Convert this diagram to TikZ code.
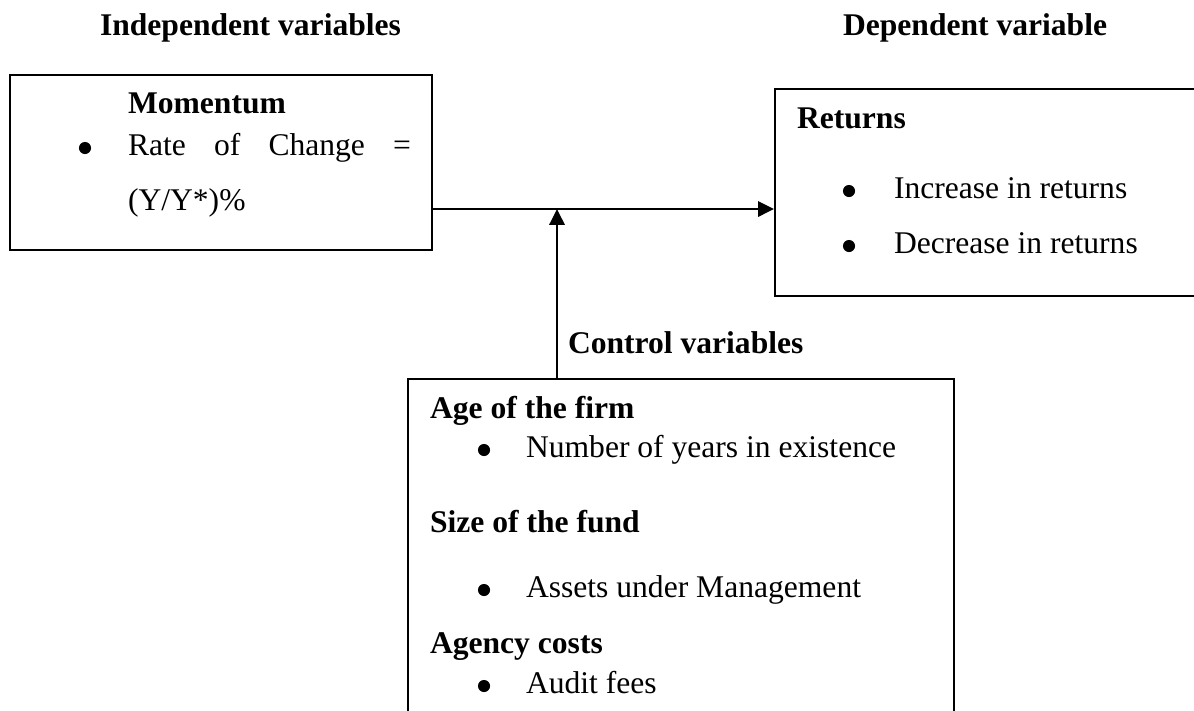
\documentclass[tikz,border=0pt]{standalone}
\usepackage{fontspec}
\setmainfont{Liberation Serif}
\usetikzlibrary{arrows.meta, fit}

\begin{document}
\begin{tikzpicture}[x=0.38pt, y=-0.38pt, line width=0.8pt,
    font=\fontsize{12pt}{14pt}\selectfont,
    box/.style={draw, inner sep=0pt},
    txt/.style={anchor=base west, inner sep=0pt},
    hd/.style={txt, font=\fontsize{12pt}{14pt}\selectfont\bfseries},
    flow/.style={-{Triangle[length=6pt, width=5.8pt]}}]
    \useasboundingbox (0,0) rectangle (1194,710);
    \clip (0,0) rectangle (1194,710);

    % headings
    \node[hd] (indep) at (99,35) {Independent variables};
    \node[hd] (dep) at (842,35) {Dependent variable};

    % independent variable
    \node[box, fit={(10,75) (432,250)}] (mom) {};
    \node[hd] (momt) at (127,113) {Momentum};
    \node[txt] (roc) at (127,155) {\makebox[107.5pt][s]{Rate of Change =}};
    \node[txt] (ratio) at (127,210) {(Y/Y*)\%};

    % dependent variable
    \node[box, fit={(775,89) (1215,296)}] (ret) {};
    \node[hd] (rett) at (796,128) {Returns};
    \node[txt] (inc) at (893,198) {Increase in returns};
    \node[txt] (dec) at (893,253) {Decrease in returns};

    % control variables
    \node[box, fit={(408,379) (954,740)}] (ctrl) {};
    \node[hd] (ctrlt) at (567,353) {Control variables};
    \node[hd] (age) at (429,418) {Age of the firm};
    \node[txt] (years) at (525,457) {Number of years in existence};
    \node[hd] (size) at (429,532) {Size of the fund};
    \node[txt] (aum) at (525,597) {Assets under Management};
    \node[hd] (agency) at (429,653) {Agency costs};
    \node[txt] (audit) at (525,693) {Audit fees};

    % bullets
    \foreach \x/\y in {85/148, 849/191, 849/246, 484/450, 484/590, 484/686} {
        \fill (\x,\y) circle[radius=2.3pt];
    }

    % arrows
    \coordinate (junc) at (557,209);
    \draw[flow] (mom.east |- junc) -- (ret.west |- junc);
    \draw[flow] (ctrl.north -| junc) -- (junc);
\end{tikzpicture}
\end{document}
